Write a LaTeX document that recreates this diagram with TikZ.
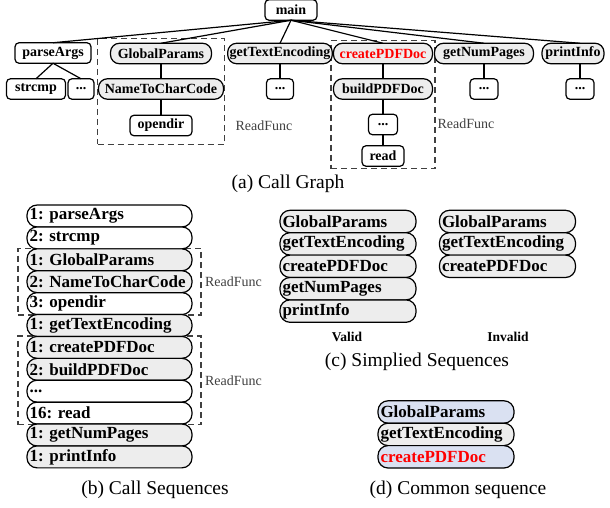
\documentclass[tikz,border=0pt]{standalone}
\usepackage{fontspec}
\setmainfont{Liberation Serif}
\usetikzlibrary{positioning, fit, backgrounds}
\definecolor{seqblue}{RGB}{218,225,242}
\frenchspacing

\begin{document}
\begin{tikzpicture}[
  x=1pt, y=-1pt,
  fnode/.style   = {draw, line width=1.2pt, rounded corners=4pt, fill=white,
                    font=\fontsize{14}{15}\selectfont\bfseries,
                    inner sep=2pt, minimum height=20.5pt, outer sep=0pt},
  rnode/.style   = {fnode, rounded corners=9pt, fill=black!7},
  seqnode/.style = {draw, line width=1.2pt, rounded corners=10pt, fill=white,
                    font=\fontsize{17}{18}\selectfont\bfseries,
                    text width=160pt, align=left, inner xsep=2.5pt,
                    inner ysep=0pt, minimum height=21.9pt, outer sep=0pt},
  rseq/.style    = {seqnode, fill=black!7},
  cseq/.style    = {seqnode, fill=black!7, text width=131pt,
                    minimum height=22.4pt},
  edge/.style    = {line width=1.2pt},
  grp/.style     = {draw, line width=1.2pt, black!75,
                    dash pattern=on 6pt off 4pt},
  note/.style    = {font=\fontsize{14}{15}\selectfont, text=black!75},
  tag/.style     = {font=\fontsize{13.5}{15}\selectfont\bfseries},
  capnode/.style = {font=\fontsize{19.5}{22}\selectfont},
]
\useasboundingbox (0,0) rectangle (610,508);

% =============================================
% (a) CALL GRAPH
% =============================================
\node[fnode, minimum width=52pt]  (main)      at (291,10)   {main};
\node[fnode, minimum width=76pt]  (parseArgs) at (53,53)    {parseArgs};
\node[rnode, minimum width=101pt] (globalPar) at (161,53.5) {GlobalParams};
\node[rnode, minimum width=102pt] (getText)   at (280,53.5) {getTextEncoding};
\node[rnode, minimum width=99pt, text=red] (createPDF) at (383,53.5) {createPDFDoc};
\node[rnode, minimum width=99pt]  (getNum)    at (484,53.5) {getNumPages};
\node[rnode, minimum width=62pt]  (printInfo) at (573,53.5) {printInfo};

\node[fnode, minimum width=59pt] (strcmp) at (36,89) {strcmp};
\node[fnode, minimum width=26pt] (pdots)  at (81,89) {...};
\node[rnode, minimum width=125pt, below=15pt of globalPar] (nameTo)   {NameToCharCode};
\node[fnode, minimum width=62pt,  below=16pt of nameTo]    (opendir)  {opendir};
\node[fnode, minimum width=27pt,  below=15pt of getText]   (tdots)    {...};
\node[rnode, minimum width=99pt,  below=15pt of createPDF] (buildPDF) {buildPDFDoc};
\node[fnode, minimum width=29pt,  below=15pt of buildPDF]  (cdots)    {...};
\node[fnode, minimum width=42pt,  below=11pt of cdots]     (read)     {read};
\node[fnode, minimum width=28pt,  below=15pt of getNum]    (ndots)    {...};
\node[fnode, minimum width=28pt] (idots) at (580,89) {...};

\node[note]    (readLabA) at (264,126) {ReadFunc};
\node[note]    (readLabB) at (466,124) {ReadFunc};
\node[capnode] (capA)     at (288,184) {(a) Call Graph};

\draw[edge] (main.south) -- (parseArgs.north);
\draw[edge] (main.south) -- (globalPar.north);
\draw[edge] (main.south) -- (getText.north);
\draw[edge] (main.south) -- (createPDF.north);
\draw[edge] (main.south) -- (getNum.north);
\draw[edge] (main.south) -- (printInfo.north -| idots);
\draw[edge] (parseArgs.south) -- (strcmp.north);
\draw[edge] (parseArgs.south) -- (pdots.north);
\draw[edge] (globalPar) -- (nameTo) -- (opendir);
\draw[edge] (getText) -- (tdots);
\draw[edge] (createPDF) -- (buildPDF) -- (cdots) -- (read);
\draw[edge] (getNum) -- (ndots);
\draw[edge] (printInfo.south -| idots) -- (idots);

% =============================================
% (b) CALL SEQUENCES
% =============================================
\node[seqnode] (bParse) at (109.5,216) {1: parseArgs};
\node[seqnode, below=0pt of bParse]  (bStrcmp)  {2: strcmp};
\node[rseq,    below=0pt of bStrcmp] (bGlobal)  {1: GlobalParams};
\node[rseq,    below=0pt of bGlobal] (bNameTo)  {2: NameToCharCode};
\node[seqnode, below=0pt of bNameTo] (bOpendir) {3: opendir};
\node[rseq,    below=0pt of bOpendir] (bText)   {1: getTextEncoding};
\node[rseq,    below=0pt of bText]   (bCreate)  {1: createPDFDoc};
\node[rseq,    below=0pt of bCreate] (bBuild)   {2: buildPDFDoc};
\node[seqnode, below=0pt of bBuild]  (bDots)    {...};
\node[seqnode, below=0pt of bDots]   (bRead)    {16: read};
\node[rseq,    below=0pt of bRead]   (bNum)     {1: getNumPages};
\node[rseq,    below=0pt of bNum]    (bPrint)   {1: printInfo};

\node[capnode] (capB) at (155,490) {(b) Call Sequences};

% =============================================
% (c) SIMPLIFIED SEQUENCES
% =============================================
\node[cseq] (cGlobal) at (348,221.5) {GlobalParams};
\node[cseq, below=0pt of cGlobal] (cText)   {getTextEncoding};
\node[cseq, below=0pt of cText]   (cCreate) {createPDFDoc};
\node[cseq, below=0pt of cCreate] (cNum)    {getNumPages};
\node[cseq, below=0pt of cNum]    (cPrint)  {printInfo};

\node[cseq] (iGlobal) at (507.5,221.5) {GlobalParams};
\node[cseq, below=0pt of iGlobal] (iText)   {getTextEncoding};
\node[cseq, below=0pt of iText]   (iCreate) {createPDFDoc};

\node[tag]     (valid)   at (347,337) {Valid};
\node[tag]     (invalid) at (508,337) {Invalid};
\node[capnode] (capC)    at (417,362) {(c) Simplied Sequences};

% =============================================
% (d) COMMON SEQUENCE
% =============================================
\node[cseq, fill=seqblue] (dGlobal) at (446,412) {GlobalParams};
\node[cseq, below=0pt of dGlobal] (dText) {getTextEncoding};
\node[cseq, fill=seqblue, text=red, below=0pt of dText] (dCreate) {createPDFDoc};

\node[capnode] (capD) at (458,490) {(d) Common sequence};

% =============================================
% READFUNC GROUP BOXES
% =============================================
\begin{scope}[on background layer]
  \node[grp, fit=(globalPar)(nameTo)(opendir), inner xsep=1pt,
        inner ysep=6.5pt, yshift=-2pt] (readBoxA) {};
  \node[grp, fit=(createPDF)(buildPDF)(cdots)(read),
        inner sep=2.5pt] (readBoxB) {};
  \node[grp, fit=(bGlobal)(bOpendir), inner xsep=9pt,
        inner ysep=0.5pt] (seqBoxA) {};
  \node[grp, fit=(bCreate)(bRead), inner xsep=9pt,
        inner ysep=0.5pt] (seqBoxB) {};
\end{scope}
\node[note, right=0pt of seqBoxA] (seqLabA) {ReadFunc};
\node[note, right=0pt of seqBoxB] (seqLabB) {ReadFunc};

\end{tikzpicture}
\end{document}
